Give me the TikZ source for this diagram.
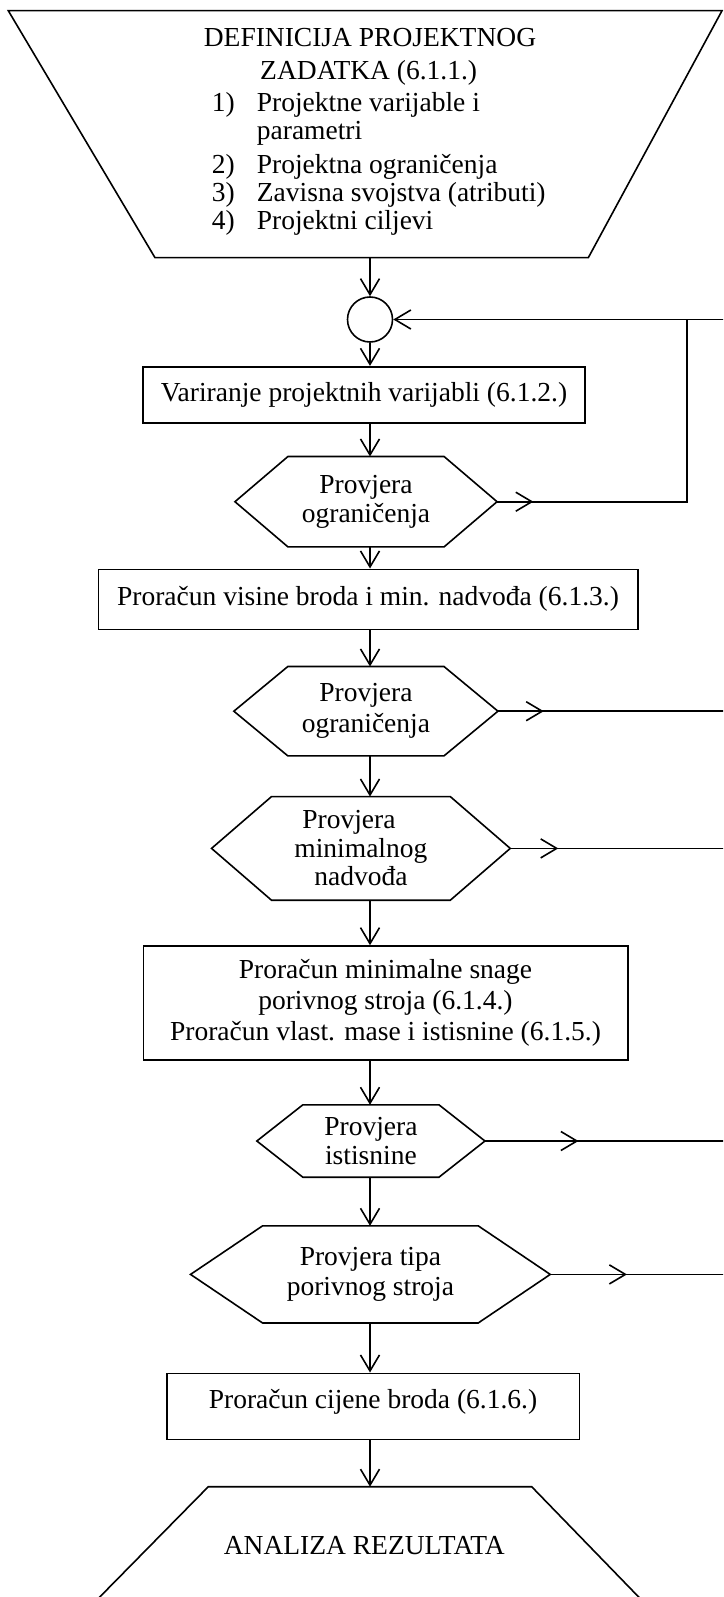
\documentclass[tikz,border=0pt]{standalone}
\usepackage{fontspec}
\setmainfont{Liberation Serif}
\usetikzlibrary{arrows.meta}
\tikzset{
  every node/.style={font=\fontsize{27.5}{30}\selectfont, inner sep=0pt},
  shp/.style={draw=black, line width=1.6pt},
  ln/.style={draw=black, line width=1.6pt},
  arr/.style={ln, -{Straight Barb[length=16pt,width=19pt]}},
  boxnode/.style={draw=black, line width=1.6pt, rectangle, text height=19pt, text depth=6pt},
  txt/.style={anchor=base west},
  hdr/.style={anchor=base},
}
\newcommand{\myhex}[8]{%
  \node[align=center, font=\fontsize{27.5}{#7}\selectfont, minimum width={2*#4pt}, minimum height={2*#5pt}] (#1) at (#2,#3) {#8};
  \draw[shp] (#1.west) -- ([xshift=#6pt]#1.north west) -- ([xshift=-#6pt]#1.north east) -- (#1.east) -- ([xshift=-#6pt]#1.south east) -- ([xshift=#6pt]#1.south west) -- cycle;
}
\begin{document}
\begin{tikzpicture}[x=1pt,y=-1pt]
\useasboundingbox (0,0) rectangle (723,1597);
\fill[white] (0,0) rectangle (723,1597);
\clip (0,0) rectangle (723,1597);

% helper columns
\coordinate (col) at (370,0);
\coordinate (loopx) at (686.7,0);
\coordinate (redge) at (724,0);

% top trapezoid
\coordinate (dtl) at (8.3,10.7);
\coordinate (dtr) at (722,10.7);
\coordinate (dbr) at (588.3,257.7);
\coordinate (dbl) at (155,257.7);
\draw[shp] (dtl) -- (dtr) -- (dbr) -- (dbl) -- cycle;
\coordinate (defout) at (370,257.7);

\node[hdr] (h1) at (370,46.7) {DEFINICIJA PROJEKTNOG};
\node[hdr] (h2) at (368.7,79.3) {ZADATKA (6.1.1.)};
\node[txt] (n1) at (211.7,111.7) {1)};
\node[txt] (t1) at (256.7,111.7) {Projektne varijable i};
\node[txt] (t1b) at (256.7,140) {parametri};
\node[txt] (n2) at (211.7,173.3) {2)};
\node[txt] (t2) at (256.7,173.3) {Projektna ograničenja};
\node[txt] (n3) at (211.7,201.7) {3)};
\node[txt] (t3) at (256.7,201.7) {Zavisna svojstva (atributi)};
\node[txt] (n4) at (211.7,230) {4)};
\node[txt] (t4) at (256.7,230) {Projektni ciljevi};

% circle
\node[circle, draw=black, line width=1.6pt, minimum size=45pt] (circ) at (370,319.5) {};

% boxes and hexagons
\node[boxnode, minimum width=442pt, minimum height=56pt] (b1) at (364,394.7) {Variranje projektnih varijabli (6.1.2.)};
\myhex{hx1}{366}{501.7}{130.85}{45}{53}{29}{Provjera\\ograničenja}
\node[boxnode, minimum width=539.4pt, minimum height=60pt] (b3) at (368,599.3) {Proračun visine broda i min. nadvođa (6.1.3.)};
\myhex{hx2}{365.9}{711.2}{131.85}{44.5}{54}{31}{Provjera\\ograničenja}
\myhex{hx3}{360.9}{848.4}{149.15}{51.65}{60}{28.5}{\mbox{Provjera\kern24pt}\\minimalnog\\nadvođa}
\node[draw=black, line width=1.6pt, rectangle, align=center, font=\fontsize{27.5}{30.8}\selectfont, minimum width=484.4pt, minimum height=114pt] (b4) at (385.5,1003) {Proračun minimalne snage\\porivnog stroja (6.1.4.)\\Proračun vlast. mase i istisnine (6.1.5.)};
\myhex{hx4}{370.9}{1141}{113.85}{36}{46}{29}{Provjera\\istisnine}
\myhex{hx5}{370.4}{1274.4}{179.65}{48.35}{72}{30}{Provjera tipa\\porivnog stroja}
\node[boxnode, text depth=15pt, minimum width=412.6pt, minimum height=66pt] (b5) at (373,1406.3) {Proračun cijene broda (6.1.6.)};

% bottom trapezoid
\coordinate (atl) at (208.3,1486.7);
\coordinate (atr) at (531.7,1486.7);
\coordinate (abl) at (77.1,1620);
\coordinate (abr) at (661,1620);
\draw[shp] (abl) -- (atl) -- (atr) -- (abr);
\node[hdr] (ana) at (364.3,1554) {ANALIZA REZULTATA};

% vertical connectors
\draw[arr] (defout) -- (circ.north);
\draw[arr] (col |- circ.south) -- (col |- b1.north);
\draw[arr] (col |- b1.south) -- (col |- hx1.north);
\draw[arr] (col |- hx1.south) -- (col |- b3.north);
\draw[arr] (col |- b3.south) -- (col |- hx2.north);
\draw[arr] (col |- hx2.south) -- (col |- hx3.north);
\draw[arr] (col |- hx3.south) -- (col |- b4.north);
\draw[arr] (col |- b4.south) -- (col |- hx4.north);
\draw[arr] (col |- hx4.south) -- (col |- hx5.north);
\draw[arr] (col |- hx5.south) -- (col |- b5.north);
\draw[arr] (col |- b5.south) -- (col |- atl);

% loop back
\draw[ln] (hx1.east) -- (loopx |- hx1.east) -- (loopx |- circ.east);
\draw[arr] (redge |- circ.east) -- (circ.east);
\draw[arr] (hx1.east) -- ++(36.3,0);

% exits to the right
\draw[ln] (hx2.east) -- (redge |- hx2.east);
\draw[arr] (hx2.east) -- ++(45.8,0);
\draw[ln] (hx3.east) -- (redge |- hx3.east);
\draw[arr] (hx3.east) -- ++(48,0);
\draw[ln] (hx4.east) -- (redge |- hx4.east);
\draw[arr] (hx4.east) -- ++(93.5,0);
\draw[ln] (hx5.east) -- (redge |- hx5.east);
\draw[arr] (hx5.east) -- ++(76.7,0);
\end{tikzpicture}
\end{document}
